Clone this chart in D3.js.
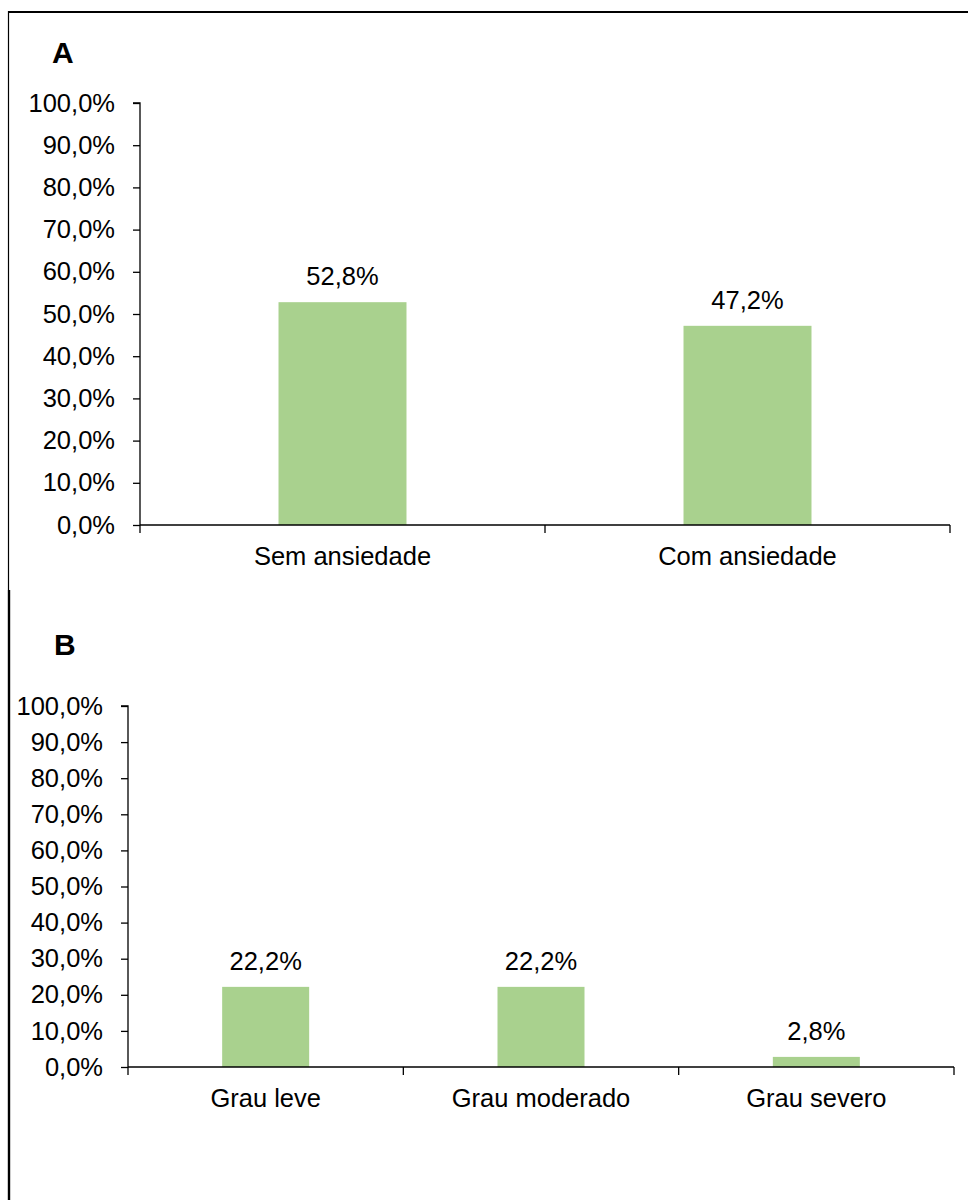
<!DOCTYPE html>
<html><head><meta charset="utf-8">
<script src="https://cdn.jsdelivr.net/npm/d3@7"></script>
<style>body{margin:0;background:#fff}svg{display:block}text{font-family:"Liberation Sans",Arial,sans-serif;fill:#000}</style>
</head><body>
<script>
const catsA = ["Sem ansiedade", "Com ansiedade"];
const valsA = [52.8, 47.2];
const catsB = ["Grau leve", "Grau moderado", "Grau severo"];
const valsB = [22.2, 22.2, 2.8];
const yTicks = [0, 10, 20, 30, 40, 50, 60, 70, 80, 90, 100];
const fmt = v => v.toFixed(1).replace(".", ",") + "%";

const W = 968, H = 1200;
const FS = 25.5;
const svg = d3.select("body").append("svg").attr("width", W).attr("height", H);

// frame lines
svg.append("line").attr("x1", 8).attr("x2", W).attr("y1", 12).attr("y2", 12).attr("stroke", "#000").attr("stroke-width", 2);
svg.append("line").attr("x1", 8.5).attr("x2", 8.5).attr("y1", 11).attr("y2", 590).attr("stroke", "#000").attr("stroke-width", 1.2);
svg.append("line").attr("x1", 9).attr("x2", 9).attr("y1", 590).attr("y2", H).attr("stroke", "#000").attr("stroke-width", 2.4);

function panel(cfg) {
  const g = svg.append("g");
  const x = d3.scaleBand().domain(cfg.cats).range([cfg.x0, cfg.x1]).padding(0);
  const y = d3.scaleLinear().domain([0, 100]).range([cfg.y0, cfg.y1]);
  const bw = x.bandwidth() * 0.316;

  g.append("text").attr("x", cfg.lx).attr("y", cfg.ly).attr("font-size", 30).attr("font-weight", "bold").text(cfg.letter);

  g.selectAll("rect.bar").data(cfg.vals).join("rect")
    .attr("x", (d, i) => x(cfg.cats[i]) + x.bandwidth() / 2 - bw / 2)
    .attr("width", bw)
    .attr("y", d => y(d))
    .attr("height", d => y(0) - y(d))
    .attr("fill", "#A9D18E");

  g.selectAll("text.val").data(cfg.vals).join("text")
    .attr("x", (d, i) => x(cfg.cats[i]) + x.bandwidth() / 2)
    .attr("y", d => y(d) - 17)
    .attr("text-anchor", "middle").attr("font-size", FS)
    .text(d => fmt(d));

  // y axis
  const ya = g.append("g").attr("transform", `translate(${cfg.x0},0)`)
    .call(d3.axisLeft(y).tickValues(yTicks).tickSize(7).tickPadding(18).tickFormat(d => fmt(d)));
  ya.select(".domain").attr("stroke", "#000").attr("stroke-width", 1.3).attr("d", `M-7,${y(100)}H0V${y(0)}`);
  ya.selectAll(".tick line").attr("stroke", "#000").attr("stroke-width", 1.3);
  ya.selectAll(".tick text").attr("font-size", FS).attr("font-family", '"Liberation Sans",Arial,sans-serif').attr("fill", "#000");

  // x axis
  const xa = g.append("g").attr("transform", `translate(0,${cfg.y0})`)
    .call(d3.axisBottom(x).tickSize(0).tickPadding(22));
  xa.select(".domain").attr("stroke", "#000").attr("stroke-width", 1.3).attr("d", `M${cfg.x0},0H${cfg.x1}`);
  xa.selectAll(".tick text").attr("font-size", FS).attr("font-family", '"Liberation Sans",Arial,sans-serif').attr("fill", "#000");
  const bounds = cfg.cats.map(c => x(c)).concat([cfg.x1]);
  xa.selectAll("line.sep").data(bounds).join("line")
    .attr("x1", d => d).attr("x2", d => d).attr("y1", 0).attr("y2", 8)
    .attr("stroke", "#000").attr("stroke-width", 1.3);
}

panel({cats: catsA, vals: valsA, x0: 140, x1: 950, y0: 525, y1: 103, letter: "A", lx: 52, ly: 63});
panel({cats: catsB, vals: valsB, x0: 128, x1: 954, y0: 1067, y1: 706, letter: "B", lx: 54, ly: 655});
</script>
</body></html>
